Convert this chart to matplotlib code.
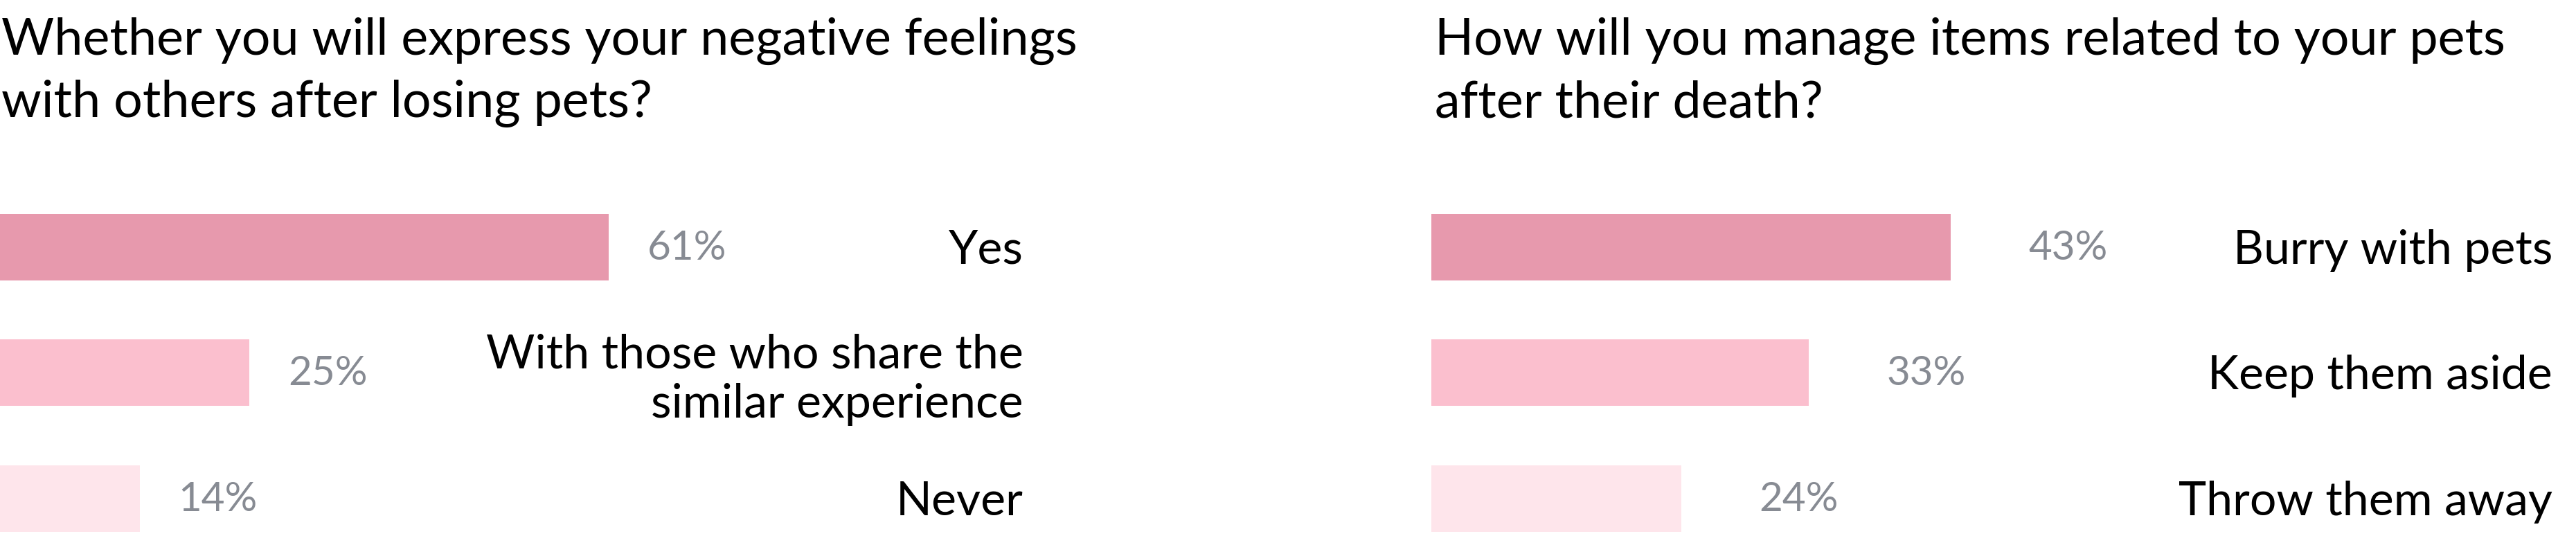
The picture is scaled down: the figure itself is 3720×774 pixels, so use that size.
import matplotlib.pyplot as plt

# canvas
W, H, DPI = 3720, 774, 100

left_title = "Whether you will express your negative feelings\nwith others after losing pets?"
left_categories = ["Yes", "With those who share the\nsimilar experience", "Never"]
left_values = [61, 25, 14]

right_title = "How will you manage items related to your pets\nafter their death?"
right_categories = ["Burry with pets", "Keep them aside", "Throw them away"]
right_values = [43, 33, 24]

bar_colors = ["#E799AD", "#FBBFCE", "#FEE5EB"]
pct_color = "#878B93"

plt.rcParams["font.family"] = "Lato"

PX = 72 / DPI  # pixels -> points


def draw_panel(fig, left_px, width_px, xlim, title, title_x, categories, values,
               gap_px, cat_right_px):
    ax = fig.add_axes([left_px / W, 0, width_px / W, 508 / H])
    ax.barh(range(len(values)), values, height=96 / 181.5, color=bar_colors)
    ax.set_xlim(*xlim)
    ax.set_ylim(2.299, -0.5)
    ax.axis("off")

    for i, (cat, v) in enumerate(zip(categories, values)):
        ax.annotate(f"{v}%", xy=(v, i), xytext=(gap_px * PX, -18 * PX),
                    textcoords="offset points", ha="left", va="baseline",
                    fontsize=42, color=pct_color, annotation_clip=False)
        if "\n" in cat:
            ax.annotate(cat, xy=(cat_right_px, i), xycoords=("figure pixels", "data"),
                        xytext=(0, -10 * PX), textcoords="offset points",
                        ha="right", va="center", multialignment="right",
                        fontsize=49, linespacing=1.2, color="black",
                        annotation_clip=False)
        else:
            ax.annotate(cat, xy=(cat_right_px, i), xycoords=("figure pixels", "data"),
                        xytext=(0, -24 * PX), textcoords="offset points",
                        ha="right", va="baseline", fontsize=49, color="black",
                        annotation_clip=False)

    # baseline of the last title line
    fig.text(title_x / W, 1 - 169 / H, title, ha="left", va="baseline",
             fontsize=53, linespacing=1.38, color="black")
    return ax


fig = plt.figure(figsize=(W / DPI, H / DPI), dpi=DPI)

draw_panel(fig, 0, 1500, (0, 1500 / 14.41), left_title, 2,
           left_categories, left_values, 56, 1478)
draw_panel(fig, 2067, 1600, (6.4, 6.4 + 1600 / 20.5), right_title, 2072,
           right_categories, right_values, 112, 3686)

fig.savefig("out.png", dpi=DPI, facecolor="white")
